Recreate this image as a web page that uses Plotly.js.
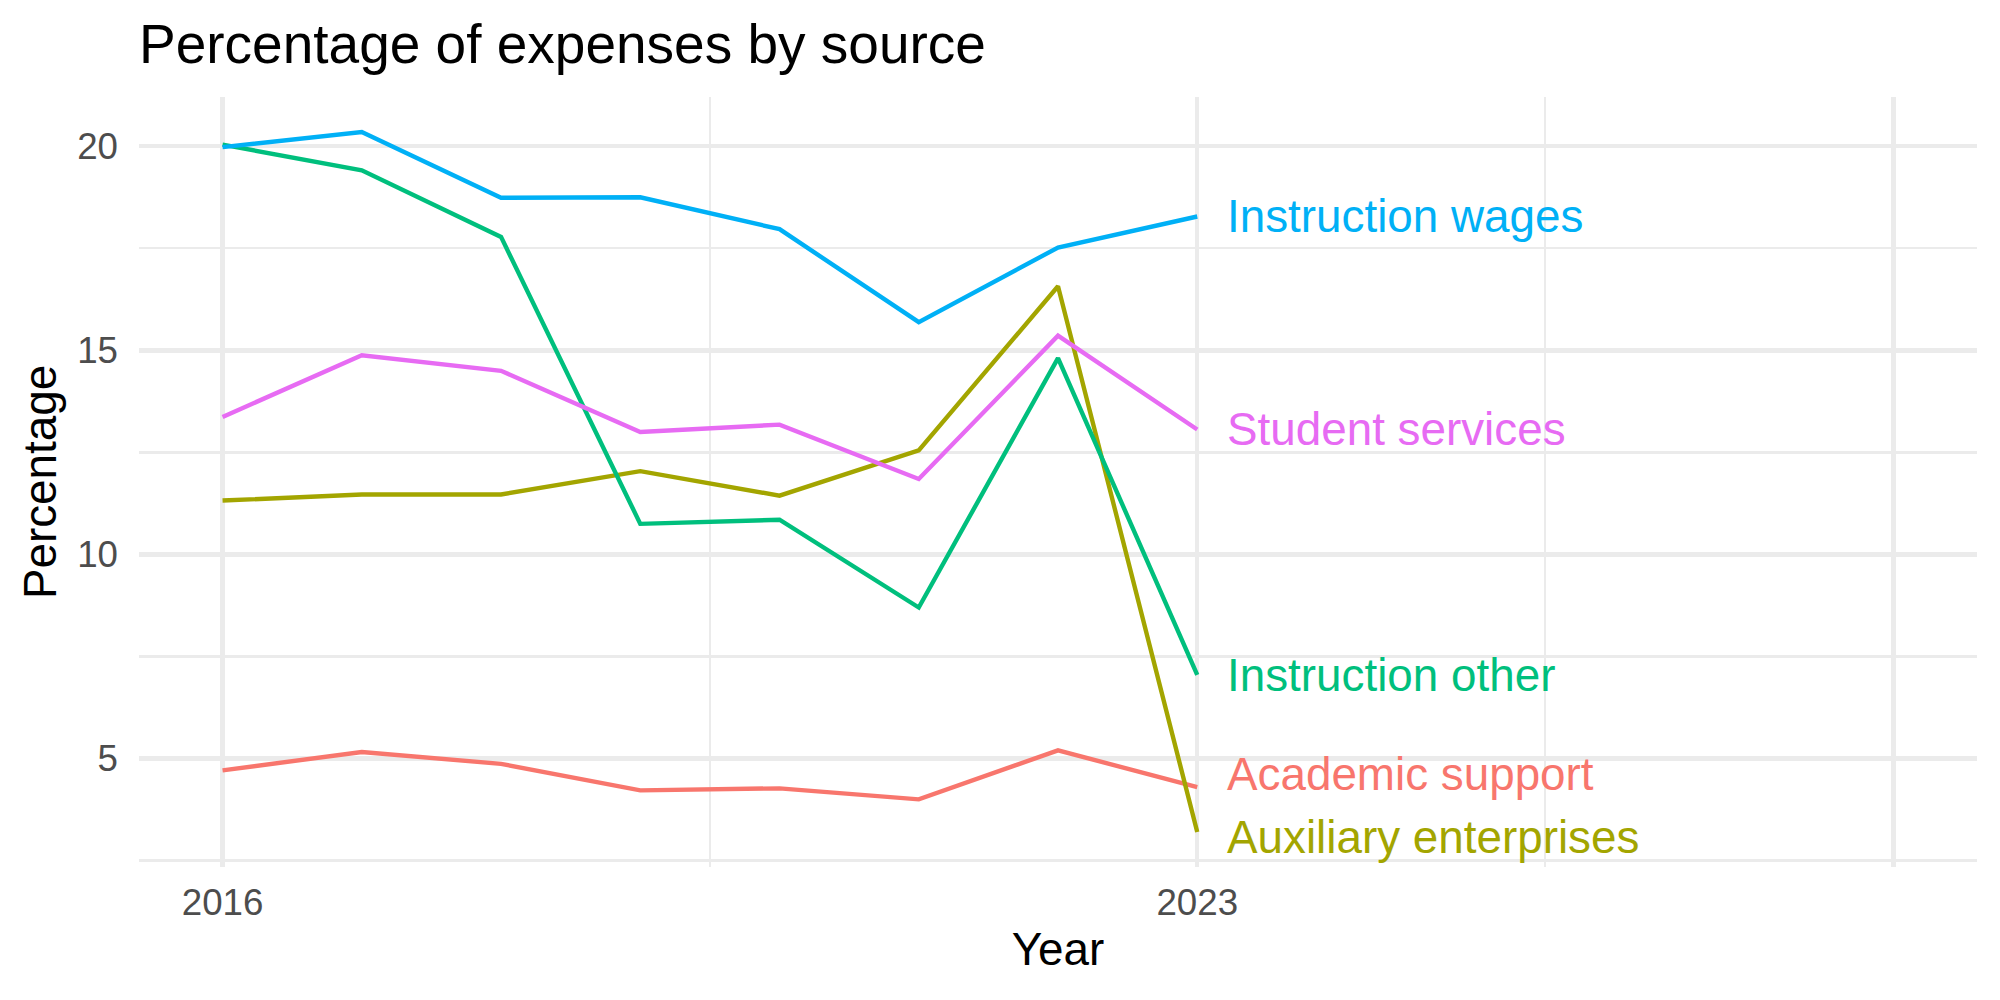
<!DOCTYPE html>
<html>
<head>
<meta charset="utf-8">
<script src="https://cdn.plot.ly/plotly-3.0.1.min.js"></script>
<style>
  html, body { margin: 0; padding: 0; background: #ffffff; }
  #chart { width: 2000px; height: 1000px; }
</style>
</head>
<body>
<div id="chart"></div>
<script>
// Share of expenses by source, 2016-2023
const years = [2016, 2017, 2018, 2019, 2020, 2021, 2022, 2023];

const academicSupport      = [4.71, 5.16, 4.87, 4.22, 4.27, 4.00, 5.20, 4.30];
const auxiliaryEnterprises = [11.32, 11.47, 11.47, 12.04, 11.44, 12.55, 16.57, 3.20];
const instructionOther     = [20.04, 19.41, 17.78, 10.75, 10.85, 8.70, 14.81, 7.05];
const instructionWages     = [19.98, 20.35, 18.74, 18.75, 17.97, 15.69, 17.52, 18.28];
const studentServices      = [13.37, 14.88, 14.50, 13.00, 13.18, 11.85, 15.36, 13.06];

const seriesNames = ["Academic support", "Auxiliary enterprises", "Instruction other",
                     "Instruction wages", "Student services"];
const seriesValues = [academicSupport, auxiliaryEnterprises, instructionOther,
                      instructionWages, studentServices];
const seriesColors = ["#F8766D", "#A3A500", "#00BF7D", "#00B0F6", "#E76BF3"];

// end-of-line label heights (spread slightly where labels would collide)
const labelY = [4.62, 3.07, 7.03, 18.27, 13.05];
const labelX = 2023.2;

// axis breaks
const xBreaks = [2016, 2023, 2028];
const xBreakLabels = ["2016", "2023", ""];
const xMinor = [2019.5, 2025.5];
const yBreaks = [5, 10, 15, 20];
const yMinor = [2.5, 7.5, 12.5, 17.5];

const FONT = "Liberation Sans, Arial, Helvetica, sans-serif";
const GRID = "#EBEBEB";

// 5% expansion on each side of the data range
function expand(lo, hi) {
  const pad = (hi - lo) * 0.05;
  return [lo - pad, hi + pad];
}
const allVals = [].concat(...seriesValues);
const yRange = expand(Math.min(...allVals), Math.max(...allVals));
const xRange = expand(2016, 2028);

const traces = seriesNames.map((name, i) => ({
  type: "scatter",
  mode: "lines",
  name: name,
  x: years,
  y: seriesValues[i],
  line: { color: seriesColors[i], width: 4.4 },
  hoverinfo: "x+y+name"
}));

const annotations = seriesNames.map((name, i) => ({
  x: labelX,
  y: labelY[i],
  xref: "x",
  yref: "y",
  text: name,
  showarrow: false,
  xanchor: "left",
  yanchor: "middle",
  font: { family: FONT, size: 45.8, color: seriesColors[i] }
}));

const layout = {
  width: 2000,
  height: 1000,
  paper_bgcolor: "#ffffff",
  plot_bgcolor: "#ffffff",
  showlegend: false,
  margin: { l: 139, r: 23, t: 97, b: 133, pad: 0 },
  font: { family: FONT, color: "#000000" },
  title: {
    text: "Percentage of expenses by source",
    font: { family: FONT, size: 55, color: "#000000" },
    xref: "paper",
    x: 0,
    xanchor: "left",
    yref: "container",
    y: 0.9755,
    yanchor: "top"
  },
  xaxis: {
    range: xRange,
    tickmode: "array",
    tickvals: xBreaks,
    ticktext: xBreakLabels,
    ticks: "",
    ticklabelstandoff: 10,
    tickfont: { family: FONT, size: 36.7, color: "#4D4D4D" },
    showgrid: true,
    gridcolor: GRID,
    gridwidth: 4.4,
    minor: { tickvals: xMinor, showgrid: true, gridcolor: GRID, gridwidth: 2.2, ticks: "" },
    zeroline: false,
    showline: false,
    automargin: false,
    title: { text: "Year", font: { family: FONT, size: 45.8, color: "#000000" }, standoff: 11 }
  },
  yaxis: {
    range: yRange,
    tickmode: "array",
    tickvals: yBreaks,
    ticks: "",
    ticklabelstandoff: 20,
    tickfont: { family: FONT, size: 36.7, color: "#4D4D4D" },
    showgrid: true,
    gridcolor: GRID,
    gridwidth: 4.4,
    minor: { tickvals: yMinor, showgrid: true, gridcolor: GRID, gridwidth: 2.2, ticks: "" },
    zeroline: false,
    showline: false,
    automargin: false,
    title: { text: "Percentage", font: { family: FONT, size: 45.8, color: "#000000" }, standoff: 6 }
  },
  annotations: annotations
};

Plotly.newPlot("chart", traces, layout, { displayModeBar: false, staticPlot: true });
</script>
</body>
</html>
